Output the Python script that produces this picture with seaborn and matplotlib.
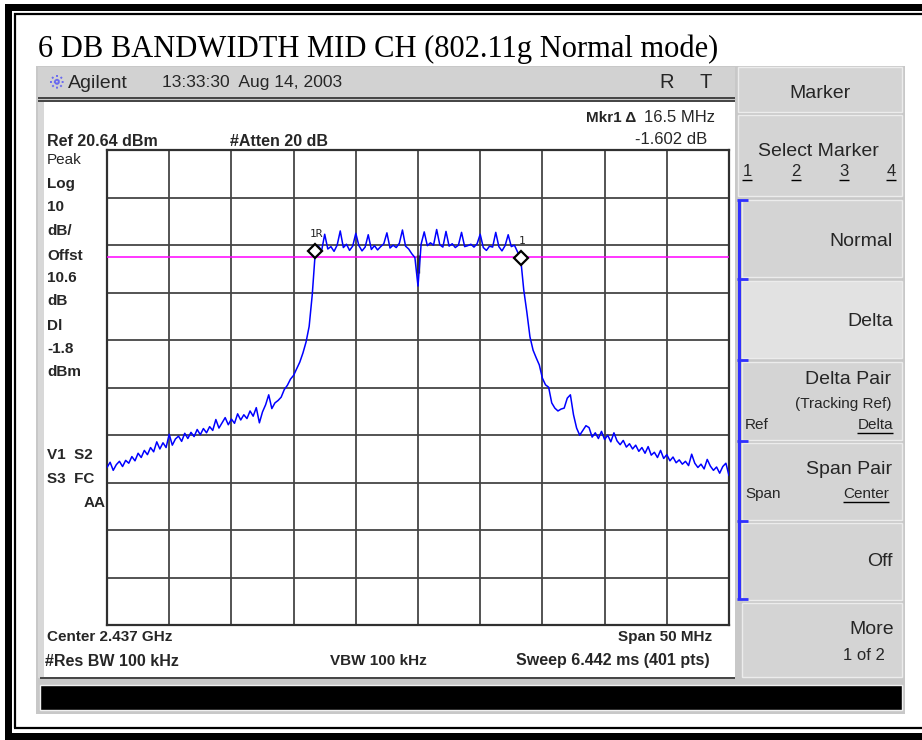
import numpy as np
import pandas as pd
import matplotlib
matplotlib.use("Agg")
import matplotlib.pyplot as plt
from matplotlib.patches import Rectangle
import seaborn as sns

# ---------------- data ----------------
title = "6 DB BANDWIDTH MID CH (802.11g Normal mode)"
center_mhz = 2437.0
span_mhz = 50.0
ref_level = 20.64
db_per_div = 10
display_line = -1.8

level_left = [-46.2, -45.1, -46.8, -45.6, -44.9, -46.0, -44.7, -45.3, -43.9, -44.8,
              -43.2, -44.1, -42.6, -43.5, -42.0, -42.9, -40.8, -42.3, -41.0, -42.0,
              -39.2, -41.5, -40.2, -39.6, -40.7, -39.0, -40.1, -38.8, -39.7, -38.2,
              -39.3, -38.0, -38.9, -37.6, -38.4, -36.1, -37.9, -36.8, -35.7, -37.2,
              -36.0, -36.9, -34.9, -36.2, -35.1, -35.9, -34.3, -35.4, -33.6, -36.8,
              -34.5, -33.0, -30.9, -33.8, -32.6, -32.1, -31.4, -29.8, -28.9, -27.6,
              -26.8, -25.4, -24.0, -22.1, -19.8, -16.5, -9.8, -0.6]
level_top = [0.4, -0.6, 2.9, -0.2, 0.3, -0.7, 0.6, 3.6, 0.1, 0.8,
             -0.5, 0.4, 3.1, 0.5, -0.6, 0.2, 2.8, -0.3, 0.5, -0.4,
             0.3, 0.9, 3.2, 0.0, 0.6, 0.1, 1.0, 3.8, 0.4, -0.2,
             -1.2, -2.0, -8.0, 0.8, 3.4, 0.5, 1.1, 0.6, 3.9, 0.7,
             0.2, 3.5, 0.4, 0.9, 0.1, 0.6, 3.3, 0.3, 0.5, 0.8,
             0.2, 0.9, 2.9, 0.1, -0.5, 0.4, 0.2, 3.3, 0.3, -0.6,
             0.5, 2.8, 0.3, 0.6, -0.8, -2.1]
level_right = [-8.8, -13.5, -18.7, -21.5, -23.1, -24.6, -27.4, -28.8, -29.3, -32.6,
               -33.7, -34.3, -33.9, -33.7, -31.6, -30.9, -35.1, -37.9, -39.4, -38.4,
               -37.4, -37.8, -39.8, -38.9, -40.1, -38.6, -40.3, -39.4, -40.8, -38.9,
               -40.6, -41.4, -40.5, -41.9, -41.2, -42.3, -41.5, -42.8, -42.0, -43.2,
               -41.8, -43.6, -43.0, -44.1, -42.6, -44.3, -43.5, -44.8, -44.0, -45.2,
               -44.6, -45.5, -44.9, -45.8, -43.4, -45.3, -46.2, -45.5, -46.5, -44.5,
               -45.9, -46.8, -46.1, -47.4, -46.0, -45.3, -47.9]

marker_freqs = [2428.75, 2445.25]
marker_levels = [-0.6, -2.1]
marker_labels = ["1R", "1"]

left_labels = [("Peak", "normal"), ("Log", "bold"), ("10", "bold"), ("dB/", "bold"),
               ("Offst", "bold"), ("10.6", "bold"), ("dB", "bold"), ("Dl", "bold"),
               ("-1.8", "bold"), ("dBm", "bold")]

# ---------------- figure ----------------
sns.set_style("white")
plt.rcParams["font.family"] = ["Liberation Sans", "DejaVu Sans"]

W, H = 922, 740
fig = plt.figure(figsize=(W / 100, H / 100), dpi=100)
fig.patch.set_facecolor("white")
bg = fig.add_axes([0, 0, 1, 1])
bg.set_xlim(0, W)
bg.set_ylim(H, 0)
bg.axis("off")


def rect(x0, y0, x1, y1, fc, ec="none", lw=0, z=1):
    bg.add_patch(Rectangle((x0, y0), x1 - x0, y1 - y0, facecolor=fc,
                           edgecolor=ec, linewidth=lw, zorder=z))


def hline(y, x0, x1, c, lw, z=3):
    bg.plot([x0, x1], [y, y], color=c, lw=lw, zorder=z, solid_capstyle="butt")


def vline(x, y0, y1, c, lw, z=3):
    bg.plot([x, x], [y0, y1], color=c, lw=lw, zorder=z, solid_capstyle="butt")


def txt(x, y, s, size, weight="normal", ha="left", **kw):
    return bg.text(x, y, s, fontsize=size, fontweight=weight, ha=ha, va="center",
                   zorder=5, **kw)


# outer page frame (double border, right side cut off)
rect(5, 4, W + 5, 11, "black", z=2)
rect(5, 4, 12, 740, "black", z=2)
rect(5, 733, W + 5, 740, "black", z=2)
hline(13.5, 14, W, "black", 1.6)
vline(15, 13, 728, "black", 1.6)
hline(727.5, 14, W, "black", 1.6)

# title
bg.text(38, 57, title, family=["Liberation Serif", "DejaVu Serif"], fontsize=22,
        color="black", ha="left", va="baseline", zorder=5)

# instrument panel
rect(36, 66, 905, 714, "#c8c8c8", z=1)
rect(38, 67, 735, 97, "#d2d2d2", z=2)
hline(97.5, 38, 735, "#3a3a3a", 1.3)
hline(100.5, 38, 735, "#3a3a3a", 1.3)
rect(38, 102, 44, 678, "#d8d8d8", z=2)
rect(44, 102, 735, 677, "white", z=2)
hline(677.5, 40, 735, "#3a3a3a", 1.3)
rect(40, 685, 902, 710, "black", ec="#f0f0f0", lw=1, z=2)

# header: logo + text
cx, cy = 57, 82
for ang in range(0, 180, 45):
    a = np.deg2rad(ang)
    bg.plot([cx - 7 * np.cos(a), cx + 7 * np.cos(a)], [cy - 7 * np.sin(a), cy + 7 * np.sin(a)],
            color="#6a6af0", lw=1.4, ls=(0, (1, 1)), zorder=4)
txt(68, 83, "Agilent", 14)
txt(162, 83, "13:33:30  Aug 14, 2003", 12.6)
txt(667, 83, "R", 14.5, ha="center")
txt(706, 83, "T", 14.5, ha="center")

# screen annotations
fs = 11
txt(47, 141, "Ref 20.64 dBm", 11.5, "bold")
txt(230, 141, "#Atten 20 dB", 11.5, "bold")
txt(715, 118, "16.5 MHz", 12, ha="right")
txt(636, 118, "Mkr1 \u0394", 11, "bold", ha="right")
txt(707, 140, "-1.602 dB", 12, ha="right")
ys = [160, 184, 207, 231, 256, 278, 301, 326, 349, 372]
for (lab, wgt), yy in zip(left_labels, ys):
    txt(47, yy, lab, fs, wgt)
txt(47, 455, "V1  S2", fs, "bold")
txt(47, 479, "S3  FC", fs, "bold")
txt(106, 503, "AA", fs, "bold", ha="right")
txt(47, 637, "Center 2.437 GHz", fs, "bold")
txt(712, 637, "Span 50 MHz", fs, "bold", ha="right")
txt(45, 661, "#Res BW 100 kHz", 11.5, "bold")
txt(330, 661, "VBW 100 kHz", fs, "bold")
txt(710, 661, "Sweep 6.442 ms (401 pts)", 11.5, "bold", ha="right")

# softkeys
buttons = [(67, 112, 738, "#d4d4d4"), (115, 196, 738, "#d4d4d4"), (200, 277, 742, "#d4d4d4"),
           (281, 358, 742, "#e2e2e2"), (362, 440, 742, "#d4d4d4"), (443, 520, 742, "#d4d4d4"),
           (523, 600, 742, "#d4d4d4"), (603, 677, 742, "#d4d4d4")]
for y0, y1, x0, fc in buttons:
    rect(x0, y0, 902, y1, fc, ec="#ececec", lw=1.0, z=2)
vline(738.5, 200, 599, "#3030ff", 2.2, z=4)
for yb in [200, 279, 360, 441, 521, 599]:
    hline(yb, 737, 748, "#3030ff", 2.0, z=4)

kfs = 14
txt(820, 93, "Marker", kfs, ha="center")
txt(818, 151, "Select Marker", kfs, ha="center")
under = []
for xx, s in zip([747, 796, 844, 891], ["1", "2", "3", "4"]):
    under.append(txt(xx, 172, s, 12, ha="center"))
txt(893, 242, "Normal", kfs, ha="right")
txt(893, 321, "Delta", kfs, ha="right")
txt(891, 379, "Delta Pair", kfs, ha="right")
txt(843, 404, "(Tracking Ref)", 11, ha="center")
txt(745, 425, "Ref", 11)
under.append(txt(893, 425, "Delta", 11, ha="right"))
txt(892, 470, "Span Pair", kfs, ha="right")
txt(745, 494, "Span", 11)
under.append(txt(889, 494, "Center", 11, ha="right"))
txt(893, 561, "Off", kfs, ha="right")
txt(894, 630, "More", kfs, ha="right")
txt(885, 655, "1 of 2", 12, ha="right")

# ---------------- trace axes ----------------
px0, px1, py0, py1 = 107, 729, 150, 625
ax = fig.add_axes([px0 / W, 1 - py1 / H, (px1 - px0) / W, (py1 - py0) / H])
ax.set_zorder(10)
ax.set_facecolor("white")

levels = level_left + level_top + level_right
freqs = np.linspace(center_mhz - span_mhz / 2, center_mhz + span_mhz / 2, len(levels))
df = pd.DataFrame({"freq": freqs, "level": levels})

ax.set_xlim(center_mhz - span_mhz / 2, center_mhz + span_mhz / 2)
ax.set_ylim(ref_level - 10 * db_per_div, ref_level)
ax.set_xticks(np.linspace(center_mhz - span_mhz / 2, center_mhz + span_mhz / 2, 11))
ax.set_yticks(np.linspace(ref_level - 10 * db_per_div, ref_level, 11))
ax.grid(True, color="#454545", lw=1.3)
ax.tick_params(length=0, labelbottom=False, labelleft=False)
for sp in ax.spines.values():
    sp.set_color("#303030")
    sp.set_linewidth(1.6)

ax.axhline(display_line, color="#ff00ff", lw=1.1, zorder=3)
ax.vlines(center_mhz, display_line - 3.5, display_line + 0.4, color="#303030", lw=2.4, zorder=3)
sns.lineplot(data=df, x="freq", y="level", ax=ax, color="#0000ff", lw=1.1,
             estimator=None, sort=False, zorder=4)
ax.plot(marker_freqs, marker_levels, ls="none", marker="D", ms=7, mfc="white",
        mec="black", mew=1.6, zorder=6)
for f, l, t in zip(marker_freqs, marker_levels, marker_labels):
    ax.annotate(t, (f, l), xytext=(1, 12), textcoords="offset points", ha="center",
                va="center", fontsize=8, family="DejaVu Sans Mono", zorder=7)
ax.set_xlabel("")
ax.set_ylabel("")

# underlines for softkey hotkeys
fig.canvas.draw()
rend = fig.canvas.get_renderer()
for t in under:
    bb = t.get_window_extent(rend)
    hline(H - bb.y0 + 0.5, bb.x0, bb.x1, "black", 1.0, z=6)

fig.savefig("out.png", dpi=100, facecolor="white")
